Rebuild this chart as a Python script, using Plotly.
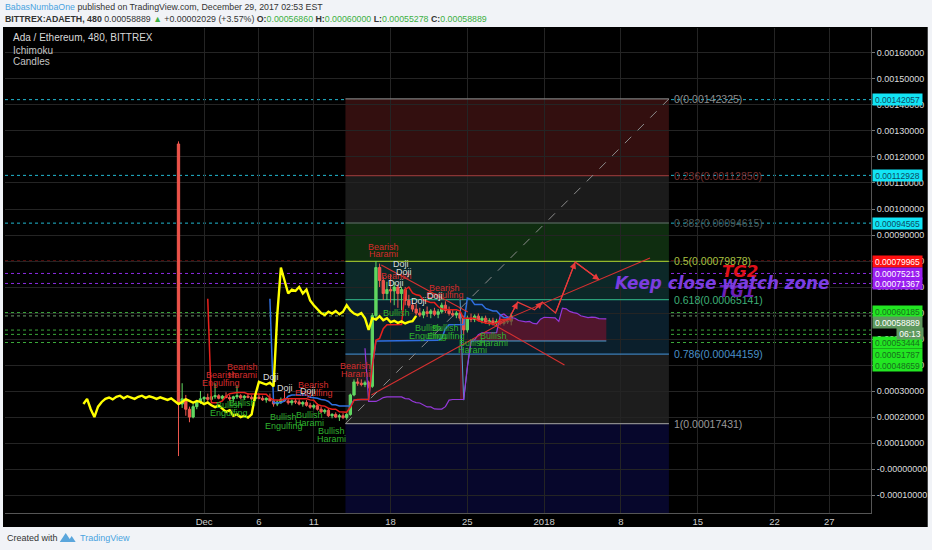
import plotly.graph_objects as go
import pandas as pd

# ---------------- data ----------------
bar_start = "2017-11-28 16:00"      # first 480-minute candle
bar_hours = 8

opens = [0.00125, 0.000250, 0.000270, 0.000230, 0.000200, 0.000240, 0.000258, 0.000270,
         0.000275, 0.000268, 0.000278, 0.000282, 0.000272, 0.000280, 0.000275, 0.000270,
         0.000278, 0.000282, 0.000274, 0.000280, 0.000276, 0.000270, 0.000276,
         0.000272, 0.000266, 0.000272, 0.000262, 0.000250, 0.000258, 0.000268, 0.000262,
         0.000255, 0.000262, 0.000258, 0.000250, 0.000256, 0.000245, 0.000238, 0.000244,
         0.000230, 0.000220, 0.000226, 0.000205, 0.000210, 0.000200, 0.000205,
         0.000198, 0.000210, 0.000285, 0.000335, 0.000330, 0.000325, 0.000332, 0.000318,
         0.000590, 0.000775, 0.000725, 0.000675, 0.000690, 0.000685, 0.000700, 0.000675, 0.000690,
         0.000648, 0.000630, 0.000615, 0.000600, 0.000592, 0.000605, 0.000598, 0.000608,
         0.000595, 0.000605, 0.000630, 0.000610, 0.000598, 0.000592, 0.000600, 0.000580,
         0.000535, 0.000580, 0.000575, 0.000588, 0.000572, 0.000580, 0.000565, 0.000570,
         0.000562, 0.000568, 0.000560, 0.000566, 0.0005686]
highs = [0.00126, 0.000330, 0.000285, 0.000240, 0.000250, 0.000265, 0.000300, 0.000280,
         0.000290, 0.000282, 0.000330, 0.000288, 0.000285, 0.000295, 0.000285, 0.000282,
         0.000320, 0.000288, 0.000285, 0.000292, 0.000284, 0.000280, 0.000290,
         0.000282, 0.000276, 0.000290, 0.000270, 0.000265, 0.000275, 0.000300, 0.000272,
         0.000268, 0.000272, 0.000268, 0.000262, 0.000265, 0.000255, 0.000250, 0.000252,
         0.000240, 0.000232, 0.000232, 0.000215, 0.000218, 0.000212, 0.000215,
         0.000215, 0.000290, 0.000345, 0.000350, 0.000345, 0.000340, 0.000340, 0.000600,
         0.000800, 0.000790, 0.000740, 0.000720, 0.000750, 0.000720, 0.000710, 0.000700, 0.000700,
         0.000670, 0.000650, 0.000635, 0.000620, 0.000615, 0.000625, 0.000615, 0.000620,
         0.000615, 0.000640, 0.000645, 0.000625, 0.000615, 0.000608, 0.000605, 0.000590,
         0.000590, 0.000598, 0.000595, 0.000598, 0.000588, 0.000590, 0.000580, 0.000582,
         0.000578, 0.000580, 0.000578, 0.000585, 0.00060000]
lows = [0.00005, 0.000235, 0.000205, 0.000180, 0.000195, 0.000230, 0.000250, 0.000255,
        0.000262, 0.000260, 0.000270, 0.000268, 0.000265, 0.000272, 0.000262, 0.000258,
        0.000270, 0.000270, 0.000265, 0.000272, 0.000266, 0.000262, 0.000268,
        0.000262, 0.000255, 0.000262, 0.000240, 0.000242, 0.000250, 0.000258, 0.000248,
        0.000245, 0.000250, 0.000245, 0.000240, 0.000240, 0.000232, 0.000230, 0.000225,
        0.000215, 0.000212, 0.000200, 0.000195, 0.000196, 0.000185, 0.000192,
        0.000190, 0.000205, 0.000280, 0.000320, 0.000318, 0.000315, 0.000310, 0.000312,
        0.000580, 0.000700, 0.000650, 0.000650, 0.000640, 0.000630, 0.000620, 0.000610, 0.000630,
        0.000620, 0.000605, 0.000590, 0.000585, 0.000580, 0.000585, 0.000580, 0.000588,
        0.000580, 0.000598, 0.000600, 0.000590, 0.000585, 0.000580, 0.000570, 0.000515,
        0.000525, 0.000565, 0.000565, 0.000568, 0.000560, 0.000558, 0.000552, 0.000552,
        0.000550, 0.000552, 0.000552, 0.000558, 0.00055278]
closes = [0.000250, 0.000270, 0.000230, 0.000200, 0.000240, 0.000258, 0.000270, 0.000275,
          0.000268, 0.000278, 0.000282, 0.000272, 0.000280, 0.000275, 0.000270, 0.000278,
          0.000282, 0.000274, 0.000280, 0.000276, 0.000270, 0.000276, 0.000272,
          0.000266, 0.000272, 0.000262, 0.000250, 0.000258, 0.000268, 0.000262, 0.000255,
          0.000262, 0.000258, 0.000250, 0.000256, 0.000245, 0.000238, 0.000244, 0.000230,
          0.000220, 0.000226, 0.000205, 0.000210, 0.000200, 0.000205, 0.000198,
          0.000210, 0.000285, 0.000335, 0.000330, 0.000325, 0.000332, 0.000318, 0.000590,
          0.000775, 0.000725, 0.000675, 0.000690, 0.000685, 0.000700, 0.000675, 0.000690, 0.000648,
          0.000630, 0.000615, 0.000600, 0.000592, 0.000605, 0.000598, 0.000608, 0.000595,
          0.000605, 0.000630, 0.000610, 0.000598, 0.000592, 0.000600, 0.000580, 0.000535,
          0.000580, 0.000575, 0.000588, 0.000572, 0.000580, 0.000565, 0.000570, 0.000562,
          0.000568, 0.000560, 0.000566, 0.0005686, 0.00058889]

# Fibonacci retracement (ratio labels and prices as printed on the chart)
fib_ratios = ["0", "0.236", "0.382", "0.5", "0.618", "0.786", "1"]
fib_prices = [0.00142325, 0.00112850, 0.00094615, 0.00079878, 0.00065141, 0.00044159, 0.00017431]
fib_start = "2017-12-13 21:15"
fib_end = "2018-01-12 09:00"

# horizontal price levels drawn across the chart
level_prices = [0.00142057, 0.00112928, 0.00094565, 0.00079965, 0.00075213, 0.00071367,
                0.00060185, 0.00053444, 0.00051787, 0.00048659]
level_kinds = ["cyan", "cyan", "cyan", "red", "purple", "purple", "green", "green", "green", "green"]
last_price = 0.00058889
bar_countdown = "06:13"

# x axis ticks
tick_dates = ["2017-12-01", "2017-12-06", "2017-12-11", "2017-12-18", "2017-12-25",
              "2018-01-01", "2018-01-08", "2018-01-15", "2018-01-22", "2018-01-27"]
tick_text = ["Dec", "6", "11", "18", "25", "2018", "8", "15", "22", "27"]
price_ticks = [-0.0001, 0.0, 0.0001, 0.0002, 0.0003, 0.0004, 0.0005, 0.0006, 0.0007,
               0.0008, 0.0009, 0.0010, 0.0011, 0.0012, 0.0013, 0.0014, 0.0015, 0.0016]
price_text = ["-0.00010000", "-0.00000000", "0.00010000", "0.00020000", "0.00030000",
              "0.00040000", "0.00050000", "0.00060000", "0.00070000", "0.00080000",
              "0.00090000", "0.00100000", "0.00110000", "0.00120000", "0.00130000",
              "0.00140000", "0.00150000", "0.00160000"]

# user drawings (red arrows / lines)
arrow_path_x = ["2017-12-28 21:00", "2017-12-29 14:00", "2017-12-31 03:00", "2017-12-31 20:00",
                "2018-01-02 01:00", "2018-01-03 20:00", "2018-01-06 01:00"]
arrow_path_y = [0.000585, 0.000642, 0.000612, 0.000642, 0.000600, 0.000796, 0.000727]
arrow_heads = [1, 3, 5, 6]
red_lines_x = [["2017-12-27 18:30", "2018-01-10 15:40"],
               ["2017-12-26 16:20", "2018-01-02 20:30"],
               ["2017-12-17 03:40", "2017-12-25 01:00"],
               ["2017-12-16 06:00", "2017-12-28 23:00"]]
red_lines_y = [[0.000562, 0.000812],
               [0.000573, 0.000400],
               [0.000785, 0.000604],
               [0.000285, 0.000581]]

# ---------------- Ichimoku (9, 26, 52, displacement 26) ----------------
dates = pd.date_range(bar_start, periods=len(closes), freq=f"{bar_hours}h")
df = pd.DataFrame(dict(o=opens, h=highs, l=lows, c=closes), index=dates)


def mid(n):
    return (df.h.rolling(n).max() + df.l.rolling(n).min()) / 2


tenkan = mid(9)
kijun = mid(26)
lead_a = (tenkan + kijun) / 2
lead_b = mid(52)
disp = 26
step = pd.Timedelta(hours=bar_hours)
lead_x = dates + disp * step
lag_x = dates - disp * step

fig = go.Figure()

# Kumo fill (only where both spans exist)
both = (lead_a.notna() & lead_b.notna()).values
fig.add_trace(go.Scatter(x=lead_x[both], y=lead_b.values[both], mode="lines",
                         line=dict(width=0), hoverinfo="skip"))
fig.add_trace(go.Scatter(x=lead_x[both], y=lead_a.values[both], mode="lines",
                         line=dict(width=0), fill="tonexty",
                         fillcolor="rgba(125,18,45,0.62)", hoverinfo="skip"))

fig.add_trace(go.Candlestick(
    x=dates, open=opens, high=highs, low=lows, close=closes,
    increasing=dict(fillcolor="#5fd65f", line=dict(color="#62d862", width=1)),
    decreasing=dict(fillcolor="#ee5048", line=dict(color="#f0584e", width=1)),
    whiskerwidth=0, hoverinfo="skip"))

# Ichimoku lines
fig.add_trace(go.Scatter(x=lead_x, y=lead_b, mode="lines", line=dict(color="#4f9fd0", width=1)))
fig.add_trace(go.Scatter(x=lead_x, y=lead_a, mode="lines", line=dict(color="#9438d8", width=1.2)))
fig.add_trace(go.Scatter(x=dates, y=kijun, mode="lines", line=dict(color="#2f6fe0", width=1.5)))
fig.add_trace(go.Scatter(x=dates, y=tenkan, mode="lines", line=dict(color="#e8201c", width=1.5)))
fig.add_trace(go.Scatter(x=lag_x, y=closes, mode="lines", line=dict(color="#ffff00", width=2.4)))

# red drawings
fig.add_trace(go.Scatter(x=arrow_path_x, y=arrow_path_y, mode="lines",
                         line=dict(color="#e83a3a", width=1.2)))
for lx, ly in zip(red_lines_x, red_lines_y):
    fig.add_trace(go.Scatter(x=lx, y=ly, mode="lines", line=dict(color="#d63030", width=1.1)))

# fib diagonal
fig.add_trace(go.Scatter(x=[fib_start, fib_end], y=[fib_prices[-1], fib_prices[0]], mode="lines",
                         line=dict(color="#8c8c8c", width=1, dash="dash")))

shapes = []
# black panel behind plot + axes
shapes.append(dict(type="rect", xref="paper", yref="paper", x0=-0.0023, x1=1.0655,
                   y0=-0.0289, y1=1.002, fillcolor="#000000", line=dict(width=0), layer="below"))

# fib zones
zone_colors = ["#330f0f", "#1b1b1b", "#0f2d10", "#0c2828", "#0b1f2c", "#1d1d1d"]
for i in range(len(fib_prices) - 1):
    shapes.append(dict(type="rect", xref="x", yref="y", x0=fib_start, x1=fib_end,
                       y0=fib_prices[i + 1], y1=fib_prices[i], fillcolor=zone_colors[i],
                       line=dict(width=0), layer="below"))
shapes.append(dict(type="rect", xref="x", yref="y", x0=fib_start, x1=fib_end,
                   y0=-0.0006, y1=fib_prices[-1], fillcolor="#07072c",
                   line=dict(width=0), layer="below"))

kind_color = {"cyan": "#22b8d0", "red": "#c41a1a", "purple": "#8a2be2", "green": "#3aa83a"}
for p, k in zip(level_prices, level_kinds):
    shapes.append(dict(type="line", xref="paper", yref="y", x0=0, x1=1, y0=p, y1=p,
                       line=dict(color=kind_color[k], width=1, dash="dot"), layer="between"))
shapes.append(dict(type="line", xref="paper", yref="y", x0=0, x1=1, y0=last_price, y1=last_price,
                   line=dict(color="#6c9c6c", width=1, dash="dot"), layer="between"))

fib_line_colors = ["#7c7c7c", "#8a3434", "#4a5a50", "#94b82c", "#2a9f78", "#3d7fb8", "#8a8a8a"]
fib_label_colors = ["#8c8c8c", "#7a3232", "#4e5a5a", "#a8c040", "#3fb078", "#4a90c8", "#9a9a9a"]
for p, c in zip(fib_prices, fib_line_colors):
    shapes.append(dict(type="line", xref="x", yref="y", x0=fib_start, x1=fib_end, y0=p, y1=p,
                       line=dict(color=c, width=1.3), layer="between"))

# TradingView logo (small)
shapes.append(dict(type="path", xref="paper", yref="paper",
                   path="M 0.0632,-0.0598 L 0.0701,-0.0412 L 0.0747,-0.0536 L 0.0770,-0.0474 L 0.0816,-0.0598 Z",
                   fillcolor="#5aa6dc", line=dict(width=0)))

ann = []
sans = "Liberation Sans, Arial, sans-serif"

# fib labels
for r, p, c in zip(fib_ratios, fib_prices, fib_label_colors):
    ann.append(dict(x="2018-01-12 15:30", y=p, xref="x", yref="y", xanchor="left", yanchor="middle",
                    text=f"{r}({p:.8f})", showarrow=False, font=dict(size=10.5, color=c, family=sans)))

# candle pattern labels
pcol = {"r": "#d42c2c", "g": "#2fb32f", "w": "#dcdcdc"}
pattern_labels = [
    ("Bearish", "2017-12-02 13:00", 0.000362, "r"), ("Engulfing", "2017-12-02 13:00", 0.000331, "r"),
    ("Bearish", "2017-12-04 11:00", 0.000392, "r"), ("Harami", "2017-12-04 11:00", 0.000362, "r"),
    ("Doji", "2017-12-07 02:00", 0.000354, "w"), ("Doji", "2017-12-08 08:30", 0.000312, "w"),
    ("Bullish", "2017-12-03 06:30", 0.000246, "g"), ("Engulfing", "2017-12-03 06:30", 0.000215, "g"),
    ("Bullish", "2017-12-04 11:00", 0.000254, "g"),
    ("Bearish", "2017-12-10 23:30", 0.000323, "r"), ("Engulfing", "2017-12-10 23:30", 0.000292, "r"),
    ("Doji", "2017-12-10 10:30", 0.000300, "w"),
    ("Bullish", "2017-12-08 06:00", 0.000200, "g"), ("Engulfing", "2017-12-08 06:00", 0.000165, "g"),
    ("Bullish", "2017-12-10 15:00", 0.000208, "g"), ("Harami", "2017-12-10 15:00", 0.000177, "g"),
    ("Bullish", "2017-12-12 15:00", 0.000146, "g"), ("Harami", "2017-12-12 15:00", 0.000115, "g"),
    ("Bearish", "2017-12-14 19:00", 0.000396, "r"), ("Harami", "2017-12-14 19:00", 0.000365, "r"),
    ("Bearish", "2017-12-17 08:00", 0.000854, "r"), ("Harami", "2017-12-17 08:00", 0.000827, "r"),
    ("Bearish", "2017-12-18 12:00", 0.000742, "r"),
    ("Doji", "2017-12-18 23:00", 0.000788, "w"), ("Doji", "2017-12-19 06:00", 0.000758, "w"),
    ("Doji", "2017-12-18 12:00", 0.000715, "w"),
    ("Bearish", "2017-12-22 23:00", 0.000696, "r"), ("Engulfing", "2017-12-22 23:00", 0.000669, "r"),
    ("Doji", "2017-12-22 01:00", 0.000665, "w"), ("Doji", "2017-12-20 14:30", 0.000646, "w"),
    ("Bullish", "2017-12-18 12:00", 0.000600, "g"),
    ("Bullish", "2017-12-21 10:00", 0.000542, "g"), ("Engulfing", "2017-12-21 10:00", 0.000512, "g"),
    ("Bullish", "2017-12-23 01:00", 0.000542, "g"), ("Engulfing", "2017-12-23 01:00", 0.000512, "g"),
    ("Bullish", "2017-12-25 12:00", 0.000485, "g"), ("Harami", "2017-12-25 12:00", 0.000458, "g"),
    ("Bullish", "2017-12-27 10:00", 0.000512, "g"), ("Harami", "2017-12-27 10:00", 0.000485, "g"),
]
for t, x, y, c in pattern_labels:
    ann.append(dict(x=x, y=y, xref="x", yref="y", text=t, showarrow=False,
                    font=dict(size=9, color=pcol[c], family=sans)))

# arrowheads on the red path
for i in arrow_heads:
    ann.append(dict(x=arrow_path_x[i], y=arrow_path_y[i], ax=arrow_path_x[i - 1], ay=arrow_path_y[i - 1],
                    xref="x", yref="y", axref="x", ayref="y", text="", showarrow=True,
                    arrowhead=2, arrowsize=1.1, arrowwidth=1.2, arrowcolor="#e83a3a"))

# target texts
ann.append(dict(x="2018-01-18 13:10", y=0.000681, xref="x", yref="y", showarrow=False,
                text="<b><i>TG1</i></b>", font=dict(size=16.5, color="#6a1fb8", family="DejaVu Sans")))
ann.append(dict(x="2018-01-18 19:40", y=0.000758, xref="x", yref="y", showarrow=False,
                text="<b><i>TG2</i></b>", font=dict(size=16.5, color="#e0101a", family="DejaVu Sans")))
ann.append(dict(x="2018-01-17 04:30", y=0.000715, xref="x", yref="y", showarrow=False,
                text="<b><i>Keep close watch zone</i></b>",
                font=dict(size=16.8, color="#7b3de0", family="DejaVu Sans")))

# price-axis labels
lab_style = {"cyan": ("#12e4f5", "#0d4b63"), "red": ("#ff1010", "#ffffff"),
             "purple": ("#9a1ef0", "#ffffff"), "green": ("#22e622", "#17701d")}
label_y = [0.00142057, 0.00112928, 0.00094565, 0.00079965, 0.00075213, 0.00071367,
           0.000604, 0.000485, 0.000442, 0.000400]
for p, k, ly in zip(level_prices, level_kinds, label_y):
    bg, fc = lab_style[k]
    ann.append(dict(x=1.0012, y=ly, xref="paper", yref="y", xanchor="left", yanchor="middle",
                    text=f"{p:.8f}", showarrow=False, bgcolor=bg, width=47, height=9, borderpad=1,
                    font=dict(size=8.5, color=fc, family=sans)))
ann.append(dict(x=1.0012, y=0.000562, xref="paper", yref="y", xanchor="left", yanchor="middle",
                text=f"{last_price:.8f}", showarrow=False, bgcolor="#5f995f", width=47, height=9,
                borderpad=1, font=dict(size=8.5, color="#ffffff", family=sans)))
ann.append(dict(x=1.0287, y=0.000523, xref="paper", yref="y", xanchor="left", yanchor="middle",
                text=bar_countdown, showarrow=False, bgcolor="#5f995f", width=24, height=9,
                borderpad=1, font=dict(size=8.5, color="#ffffff", family=sans)))

# header / legend / footer
o, h, l, c = opens[-1], highs[-1], lows[-1], closes[-1]
chg = c - closes[-2]
pct = chg / closes[-2] * 100
g = "#3cb043"
ann.append(dict(x=-0.0023, y=1.0433, xref="paper", yref="paper", xanchor="left", yanchor="middle",
                showarrow=False, font=dict(size=8.8, color="#333333", family=sans),
                text="<span style='color:#4aa3df'>BabasNumbaOne</span> published on TradingView.com, December 29, 2017 02:53 EST"))
ann.append(dict(x=-0.0023, y=1.0186, xref="paper", yref="paper", xanchor="left", yanchor="middle",
                showarrow=False, font=dict(size=8.8, color="#333333", family=sans),
                text=(f"<b>BITTREX:ADAETH, 480</b> {c:.8f} <span style='color:{g}'>▲</span> "
                      f"+{chg:.8f} (+{pct:.2f}%) <b>O:</b><span style='color:{g}'>{o:.8f}</span> "
                      f"<b>H:</b><span style='color:{g}'>{h:.8f}</span> "
                      f"<b>L:</b><span style='color:{g}'>{l:.8f}</span> "
                      f"<b>C:</b><span style='color:{g}'>{c:.8f}</span>")))
for txt, yy, col in [("Ada / Ethereum, 480, BITTREX", 0.9794, "#d8d8d8"),
                     ("Ichimoku", 0.9546, "#c4c4c4"), ("Candles", 0.9299, "#c4c4c4")]:
    ann.append(dict(x=0.0069, y=yy, xref="paper", yref="paper", xanchor="left", yanchor="middle",
                    showarrow=False, text=txt, font=dict(size=10, color=col, family=sans)))
ann.append(dict(x=0.0, y=-0.0515, xref="paper", yref="paper", xanchor="left", yanchor="middle",
                showarrow=False, text="Created with", font=dict(size=9, color="#333333", family=sans)))
ann.append(dict(x=0.0839, y=-0.0515, xref="paper", yref="paper", xanchor="left", yanchor="middle",
                showarrow=False, text="TradingView", font=dict(size=9, color="#4aa3df", family=sans)))

fig.update_layout(
    width=932, height=550, autosize=False,
    margin=dict(l=5, r=57, t=28, b=37),
    paper_bgcolor="#f1f3f7", plot_bgcolor="#000000",
    showlegend=False, hovermode=False, boxgap=0.1,
    shapes=shapes, annotations=ann,
    xaxis=dict(type="date", range=["2017-11-12 20:25", "2018-01-30 19:07"],
               tickvals=tick_dates, ticktext=tick_text, showgrid=True, gridcolor="#242424",
               showline=True, linecolor="#555555", linewidth=1, ticks="", zeroline=False,
               tickfont=dict(size=9.5, color="#cccccc", family=sans),
               rangeslider=dict(visible=False)),
    yaxis=dict(side="right", range=[-0.000169, 0.001696], tickvals=price_ticks, ticktext=price_text,
               showgrid=True, gridcolor="#242424", showline=True, linecolor="#555555",
               ticks="outside", ticklen=3, tickcolor="#777777", zeroline=False,
               tickfont=dict(size=9, color="#dddddd", family=sans)),
)

fig.write_html("out.html", config=dict(displayModeBar=False),
               post_script="document.body.style.margin='0px';")
